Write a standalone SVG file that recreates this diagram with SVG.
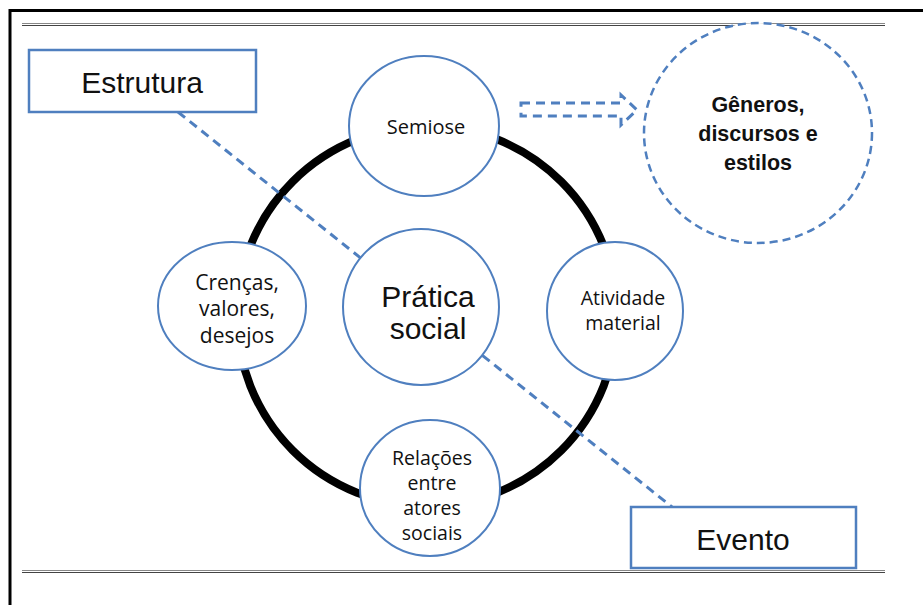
<svg xmlns="http://www.w3.org/2000/svg" width="923" height="605" viewBox="0 0 923 605">
<style>
.node{fill:#fff;stroke:#4f7fbf;stroke-width:2}
.box{fill:#fff;stroke:#4f7fbf;stroke-width:2.5}
.dash{fill:none;stroke:#4f7fbf;stroke-width:3;stroke-dasharray:9 6}
.c{font-family:"Open Sans","Noto Sans",sans-serif;fill:#111;text-anchor:middle}
.a{font-family:"Liberation Sans",Arial,sans-serif;fill:#111;text-anchor:middle}
</style>
<rect width="923" height="605" fill="#fff"/>
<g id="frame">
<path d="M10 605V10.5H923" fill="none" stroke="#000" stroke-width="3"/>
<line x1="22" y1="23.5" x2="885" y2="23.5" stroke="#888" stroke-width="1.2"/>
<line x1="22" y1="25.5" x2="885" y2="25.5" stroke="#444" stroke-width="1"/>
<line x1="22" y1="570.5" x2="885" y2="570.5" stroke="#888" stroke-width="1.2"/>
<line x1="22" y1="572.5" x2="885" y2="572.5" stroke="#444" stroke-width="1"/>
</g>
<g id="ring"><circle cx="427" cy="316" r="190" fill="none" stroke="#000" stroke-width="8"/></g>
<g id="connectors">
<line class="dash" x1="178" y1="112" x2="672" y2="507"/>
<path class="dash" stroke-width="2.5" stroke-dasharray="7 4" d="M521 103H621V95L637 110L621 125V116H521Z"/>
</g>
<g id="semiose"><ellipse class="node" cx="424" cy="126" rx="75" ry="70"/><text class="c" font-size="20" x="426" y="134">Semiose</text></g>
<g id="crencas"><ellipse class="node" cx="232" cy="306" rx="74" ry="64"/>
<text class="c" font-size="21" x="237" y="290">Crenças,</text><text class="c" font-size="21" x="237" y="316">valores,</text><text class="c" font-size="21" x="237" y="343">desejos</text></g>
<g id="pratica"><ellipse class="node" cx="421" cy="307" rx="78" ry="78"/>
<text class="a" font-size="30" x="428" y="307">Prática</text><text class="a" font-size="30" x="428" y="339">social</text></g>
<g id="atividade"><ellipse class="node" cx="615" cy="311" rx="68" ry="69"/>
<text class="c" font-size="19.5" x="623" y="305">Atividade</text><text class="c" font-size="19.5" x="623" y="330">material</text></g>
<g id="relacoes"><ellipse class="node" cx="430" cy="488" rx="70" ry="68"/>
<text class="c" font-size="19.5" x="432" y="465">Relações</text><text class="c" font-size="19.5" x="432" y="490">entre</text><text class="c" font-size="19.5" x="432" y="515">atores</text><text class="c" font-size="19.5" x="432" y="540">sociais</text></g>
<g id="generos"><ellipse cx="758" cy="133" rx="114" ry="110" fill="#fff" stroke="#4f7fbf" stroke-width="2.5" stroke-dasharray="8 5"/>
<text class="a" font-size="21.5" font-weight="bold" x="758" y="112">Gêneros,</text><text class="a" font-size="21.5" font-weight="bold" x="758" y="141">discursos e</text><text class="a" font-size="21.5" font-weight="bold" x="758" y="170">estilos</text></g>
<g id="estrutura"><rect class="box" x="29" y="50" width="227" height="62"/><text class="a" font-size="30" x="142" y="93">Estrutura</text></g>
<g id="evento"><rect class="box" x="631" y="507" width="225" height="61"/><text class="a" font-size="30" x="743" y="550">Evento</text></g>
</svg>
